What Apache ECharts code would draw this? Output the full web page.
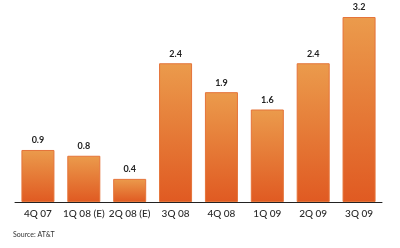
<!DOCTYPE html>
<html><head><meta charset="utf-8">
<script src="https://cdn.jsdelivr.net/npm/echarts@6/dist/echarts.min.js"></script>
<style>html,body{margin:0;padding:0;background:#fff}#c{width:400px;height:248px}</style>
</head><body><div id="c"></div>
<script>
var categories = ['4Q 07','1Q 08 (E)','2Q 08 (E)','3Q 08','4Q 08','1Q 09','2Q 09','3Q 09'];
var values = [0.9, 0.8, 0.4, 2.4, 1.9, 1.6, 2.4, 3.2];
var sourceText = 'Source: AT&T';
var chart = echarts.init(document.getElementById('c'), null, {renderer:'canvas'});
chart.setOption({
  animation:false,
  grid:{left:15,right:18,top:17,bottom:46},
  xAxis:{type:'category',data:categories,
    axisLine:{lineStyle:{color:'#222',width:1}},axisTick:{show:false},
    axisLabel:{color:'#2a2a2a',fontSize:10,fontFamily:'Lato',fontWeight:500,margin:7,interval:0}},
  yAxis:{type:'value',min:0,max:3.2,show:false,splitLine:{show:false}},
  series:[{type:'bar',data:values,barCategoryGap:'28%',
    itemStyle:{borderColor:'#E5743A',borderWidth:1,
      color:{type:'linear',x:0,y:0,x2:0,y2:1,colorStops:[{offset:0,color:'#EB9B4C'},{offset:1,color:'#E05A22'}]}},
    label:{show:true,position:'top',distance:5,color:'#222',fontSize:9,fontFamily:'Lato',fontWeight:'bold',
      formatter:function(p){return p.value.toFixed(1);}}
  }],
  graphic:[{type:'text',left:13,top:231,style:{text:sourceText,fill:'#333',fontSize:7,fontFamily:'Lato'}}]
});
</script></body></html>
